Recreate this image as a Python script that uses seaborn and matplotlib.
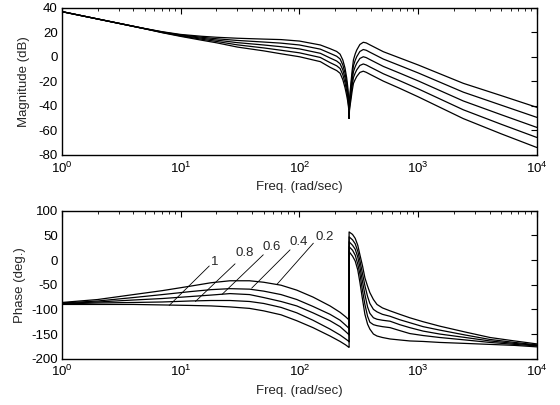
import numpy as np
import pandas as pd
import matplotlib
matplotlib.use("Agg")
import matplotlib.pyplot as plt
import seaborn as sns
from matplotlib.ticker import LogLocator, NullFormatter, MultipleLocator

# ---- data -------------------------------------------------------------
params = ["0.2", "0.4", "0.6", "0.8", "1"]

# magnitude (dB) sampled in rad/sec
w_mag = [1, 2, 5, 7, 10, 15, 20, 30, 50, 70, 100, 150, 181, 206, 220, 232, 242,
         250, 255, 258, 260, 262, 264, 266, 271, 278, 285, 295, 304, 323, 345,
         365, 394, 509, 700, 1000, 2400, 5000, 10000]
mag_02 = [37.0, 31.0, 23.2, 20.6, 18.4, 16.9, 16.1, 15.3, 14.6, 14.2, 13.0, 9.8,
          6.8, 4.5, 2.3, -2.5, -9.0, -17.0, -24.0, -30.0, -36.0, -50.0, -37.0,
          -31.0, -22.0, -11.0, -2.4, 2.5, 5.7, 10.2, 12.0, 11.5, 9.8, 4.3, -0.8,
          -6.5, -21.5, -31.5, -41.1]
mag_04 = [37.0, 31.0, 23.1, 20.4, 18.0, 16.1, 14.9, 13.5, 12.2, 11.3, 9.8, 6.4,
          3.0, 0.6, -1.6, -6.5, -13.0, -20.6, -27.0, -32.4, -37.6, -50.0, -38.6,
          -33.4, -25.4, -15.2, -7.2, -2.7, 0.3, 4.5, 6.1, 5.5, 3.8, -1.7, -7.0,
          -13.0, -28.7, -39.3, -49.3]
mag_06 = [37.0, 31.0, 23.1, 20.2, 17.6, 15.3, 13.8, 11.7, 9.8, 8.4, 6.6, 3.0,
          -0.8, -3.3, -5.5, -10.5, -17.0, -24.2, -30.0, -34.8, -39.2, -50.0,
          -40.2, -35.8, -28.8, -19.4, -12.0, -7.9, -5.1, -1.2, 0.2, -0.5, -2.2,
          -7.7, -13.2, -19.5, -35.9, -47.1, -57.5]
mag_08 = [37.0, 31.0, 23.0, 20.0, 17.2, 14.5, 12.7, 9.9, 7.4, 5.5, 3.4, -0.4,
          -4.6, -7.2, -9.4, -14.5, -21.0, -27.8, -33.0, -37.2, -40.8, -50.0,
          -41.8, -38.2, -32.2, -23.6, -16.8, -13.1, -10.5, -6.9, -5.7, -6.5,
          -8.2, -13.7, -19.4, -26.0, -43.1, -54.9, -65.7]
mag_10 = [37.0, 31.0, 23.0, 19.8, 16.8, 13.7, 11.6, 8.1, 5.0, 2.6, 0.2, -3.8,
          -8.4, -11.1, -13.3, -18.5, -25.0, -31.4, -36.0, -39.6, -42.4, -50.0,
          -43.4, -40.6, -35.6, -27.8, -21.6, -18.3, -15.9, -12.6, -11.6, -12.5,
          -14.2, -19.7, -25.6, -32.5, -50.3, -62.7, -73.9]

# phase (deg.) below and above the anti-resonance
w_ph_low = [1, 2, 4, 7, 12, 18, 26, 38, 50, 70, 95, 130, 181, 220, 245, 258, 262]
w_ph_high = [262, 280, 295, 310, 323, 340, 356, 375, 392, 420, 450, 500, 580,
             700, 850, 1100, 1520, 2500, 4030, 6500, 10000]
ph_02 = [-86, -80, -70, -62, -53, -46, -42, -42, -45, -51, -61, -75, -93, -106,
         -115, -120, -122,
         57, 52, 44, 30, 11, -12, -36, -53, -66, -80, -90, -97, -103, -110,
         -117, -125, -134, -146, -157, -164, -170]
ph_04 = [-87, -83, -76, -70, -64, -60, -58, -59, -63, -70, -80, -94, -110, -122,
         -132, -137, -139,
         47, 41, 33, 18, -1, -28, -52, -74, -88, -100, -105, -110, -114, -121,
         -127, -135, -142, -152, -161, -167, -172]
ph_06 = [-88, -85, -81, -78, -74, -71, -68, -70, -76, -84, -93, -107, -123,
         -135, -145, -150, -152,
         37, 30, 22, 6, -14, -44, -70, -95, -108, -117, -120, -122, -124, -131,
         -137, -144, -150, -157, -164, -169, -173]
ph_08 = [-89, -87, -86, -85, -83, -82, -82, -84, -88, -96, -107, -122, -140,
         -152, -160, -164, -166,
         27, 20, 10, -8, -28, -62, -90, -114, -126, -131, -133, -135, -137,
         -143, -149, -153, -157, -162, -167, -171, -174]
ph_10 = [-90, -90, -90, -91, -92, -93, -95, -98, -103, -111, -123, -137, -154,
         -165, -172, -176, -177,
         17, 8, -2, -20, -45, -80, -110, -130, -140, -150, -154, -157, -160,
         -162, -164, -165, -167, -169, -171, -173, -176]

# curve labels with leader lines: text position, line start (on curve), line end
lab_text = [(19.5, -3), (34.9, 14.7), (58.4, 27.4), (98, 37.4), (164, 47.5)]
lab_names = ["1", "0.8", "0.6", "0.4", "0.2"]
lead_from = [(8.0, -92), (13.3, -84), (22.2, -70), (39.6, -57), (64.4, -49.7)]
lead_to = [(17.4, -12), (28.7, -7.6), (49.6, 10.7), (83.4, 20.7), (131, 34.2)]

# ---- tidy tables ------------------------------------------------------
mags = [mag_02, mag_04, mag_06, mag_08, mag_10]
phs = [ph_02, ph_04, ph_06, ph_08, ph_10]
w_ph = w_ph_low + w_ph_high

df_mag = pd.concat([pd.DataFrame({"w": w_mag, "val": m, "k": p})
                    for p, m in zip(params, mags)], ignore_index=True)
df_ph = pd.concat([pd.DataFrame({"w": w_ph, "val": ph, "k": p})
                   for p, ph in zip(params, phs)], ignore_index=True)

# ---- style ------------------------------------------------------------
sns.set_style("white")
plt.rcParams["font.family"] = ["Liberation Sans", "DejaVu Sans"]
plt.rcParams["mathtext.fontset"] = "custom"
plt.rcParams["mathtext.rm"] = "Liberation Sans"
plt.rcParams["mathtext.it"] = "Liberation Sans:italic"
plt.rcParams["axes.unicode_minus"] = False

FS = 9.5

fig = plt.figure(figsize=(5.6, 4.05), dpi=100)
ax1 = fig.add_axes([0.1107, 0.6173, 0.848, 0.363])
ax2 = fig.add_axes([0.1107, 0.1143, 0.848, 0.3654])

pal = {p: "black" for p in params}
for ax, df in ((ax1, df_mag), (ax2, df_ph)):
    sns.lineplot(data=df, x="w", y="val", hue="k", units="k", palette=pal,
                 estimator=None, sort=False, legend=False, lw=0.9, ax=ax)

for ax in (ax1, ax2):
    ax.set_xscale("log")
    ax.set_xlim(1, 1e4)
    ax.xaxis.set_major_locator(LogLocator(base=10, numticks=10))
    ax.xaxis.set_minor_locator(LogLocator(base=10, subs=np.arange(2, 10), numticks=100))
    ax.xaxis.set_minor_formatter(NullFormatter())
    ax.tick_params(which="both", direction="in", top=True, right=True,
                   labelsize=FS, colors="black")
    ax.tick_params(axis="y", pad=3)
    ax.tick_params(axis="x", pad=4)
    ax.tick_params(which="major", length=4, width=0.8)
    ax.tick_params(which="minor", length=2, width=0.6)
    for s in ax.spines.values():
        s.set_linewidth(1.0)
        s.set_color("black")
    ax.set_xlabel("Freq. (rad/sec)", fontsize=FS, labelpad=4)

ax1.set_ylim(-80, 40)
ax1.yaxis.set_major_locator(MultipleLocator(20))
ax1.set_ylabel("Magnitude (dB)", fontsize=FS, labelpad=6)

ax2.set_ylim(-200, 100)
ax2.yaxis.set_major_locator(MultipleLocator(50))
ax2.set_ylabel("Phase (deg.)", fontsize=FS, labelpad=4)

for name, txt, a, b in zip(lab_names, lab_text, lead_from, lead_to):
    ax2.plot([a[0], b[0]], [a[1], b[1]], color="black", lw=0.6)
    ax2.text(txt[0], txt[1], name, fontsize=FS, ha="center", va="center")

fig.savefig("out.png", dpi=100)
